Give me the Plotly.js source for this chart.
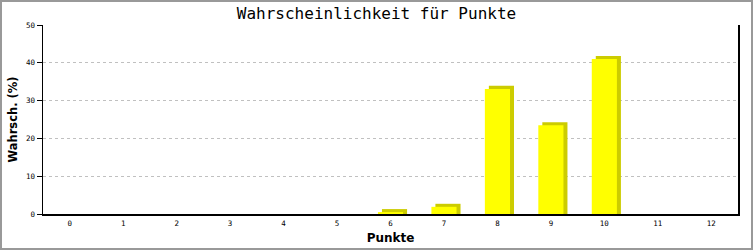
<!DOCTYPE html>
<html>
<head>
<meta charset="utf-8">
<script src="https://cdn.plot.ly/plotly-3.0.1.min.js"></script>
<style>
  html, body { margin: 0; padding: 0; background: #fff; }
  #wrap { position: relative; width: 753px; height: 250px; }
  #chart { width: 753px; height: 250px; }
  #frame { position: absolute; left: 0; top: 0; width: 753px; height: 250px; box-sizing: border-box; border: 2px solid #999; pointer-events: none; }
</style>
</head>
<body>
<div id="wrap"><div id="chart"></div><div id="frame"></div></div>
<script>
const chartTitle = "Wahrscheinlichkeit für Punkte";
const xTitle = "Punkte";
const yTitle = "Wahrsch. (%)";
const punkte = [0, 1, 2, 3, 4, 5, 6, 7, 8, 9, 10, 11, 12];
const wahrsch = [0, 0, 0, 0, 0, 0, 0.5, 1.9, 33.1, 23.5, 41.0, 0, 0];
const yTicks = [0, 10, 20, 30, 40, 50];

// 3D look: a darker copy of each bar, shifted right and up a little
const barWidth = 0.47;
const depthX = 0.075;
const depthY = 0.8;
const shadow = wahrsch.map(v => v > 0 ? v + depthY : null);

const traces = [
  {
    type: 'bar', x: punkte, y: shadow,
    width: barWidth, offset: -barWidth / 2 + depthX,
    marker: { color: '#cccc00', line: { width: 0 } },
    hoverinfo: 'skip', showlegend: false
  },
  {
    type: 'bar', x: punkte, y: wahrsch,
    width: barWidth, offset: -barWidth / 2,
    marker: { color: '#ffff00', line: { width: 0 } },
    showlegend: false
  }
];

const layout = {
  width: 753, height: 250,
  margin: { l: 43, r: 15, t: 25, b: 36, pad: 0 },
  paper_bgcolor: '#ffffff', plot_bgcolor: '#ffffff',
  barmode: 'overlay',
  title: {
    text: chartTitle,
    font: { family: 'DejaVu Sans Mono', size: 16, color: '#000' },
    xref: 'container', x: 0.5, xanchor: 'center',
    yref: 'container', y: 1 - 13 / 250, yanchor: 'middle'
  },
  xaxis: {
    range: [-0.5, 12.5],
    tickmode: 'array', tickvals: punkte, ticktext: punkte.map(String),
    ticks: '', showgrid: false, zeroline: false,
    showline: true, linecolor: '#000', linewidth: 1.5,
    ticklabelstandoff: 1,
    tickfont: { family: 'DejaVu Sans Mono', size: 7.5, color: '#000' },
    title: { text: xTitle, standoff: 7, font: { family: 'DejaVu Sans', size: 12, color: '#000', weight: 'bold' } },
    automargin: false, fixedrange: true
  },
  yaxis: {
    range: [0, 50],
    tickmode: 'array', tickvals: yTicks, ticktext: yTicks.map(String),
    ticks: 'outside', ticklen: 5, tickcolor: '#000', tickwidth: 1,
    showgrid: true, gridcolor: '#c0c0c0', griddash: 'dot', gridwidth: 1,
    zeroline: false,
    showline: true, linecolor: '#000', linewidth: 1.5, mirror: true,
    tickfont: { family: 'DejaVu Sans Mono', size: 7.5, color: '#000' },
    title: { text: yTitle, standoff: 6, font: { family: 'DejaVu Sans', size: 11.5, color: '#000', weight: 'bold' } },
    automargin: false, fixedrange: true
  }
};

Plotly.newPlot('chart', traces, layout, { displayModeBar: false, staticPlot: true });
</script>
</body>
</html>
